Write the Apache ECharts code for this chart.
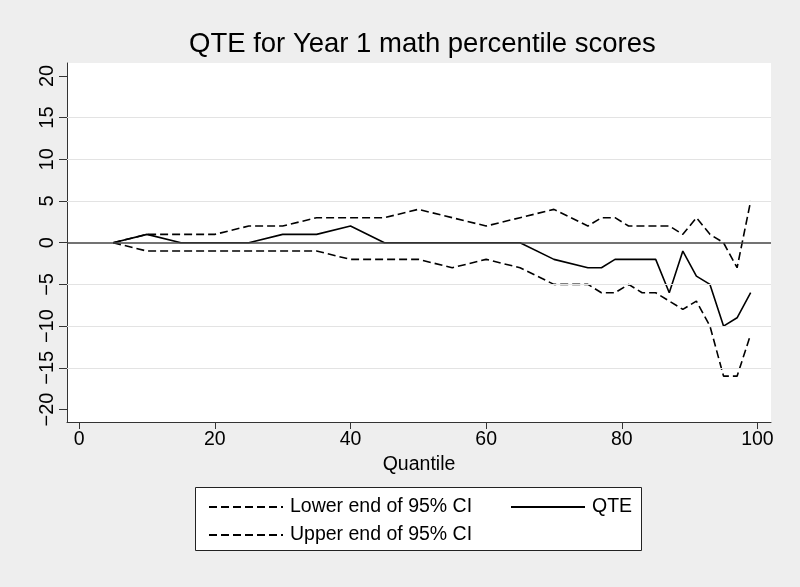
<!DOCTYPE html>
<html>
<head>
<meta charset="utf-8">
<script src="https://cdn.jsdelivr.net/npm/echarts@6/dist/echarts.min.js"></script>
<style>
html,body{margin:0;padding:0;background:#eeeeee;}
#chart{width:800px;height:587px;}
</style>
</head>
<body>
<div id="chart"></div>
<script>
// ---- data ----
var quantiles = [5,10,15,20,25,30,35,40,45,50,55,60,65,70,75,77,79,81,83,85,87,89,91,93,95,97,99];
var qte       = [0,1,0,0,0,1,1,2,0,0,0,0,0,-2,-3,-3,-2,-2,-2,-2,-6,-1,-4,-5,-10,-9,-6];
var lowerCI   = [0,-1,-1,-1,-1,-1,-1,-2,-2,-2,-3,-2,-3,-5,-5,-6,-6,-5,-6,-6,-7,-8,-7,-10,-16,-16,-11];
var upperCI   = [0,1,1,1,2,2,3,3,3,4,3,2,3,4,2,3,3,2,2,2,2,1,3,1,0,-3,5];
var xTicks = [0,20,40,60,80,100];
var yTicks = [-20,-15,-10,-5,0,5,10,15,20];
var gridValues = [-15,-10,-5,5,10,15];
var titleText = 'QTE for Year 1 math percentile scores';
var xName = 'Quantile';
var names = ['Lower end of 95% CI','QTE','Upper end of 95% CI'];

function pairs(xs, ys){ return xs.map(function(x,i){ return [x, ys[i]]; }); }

var FONT = "'Liberation Sans', Arial, sans-serif";
var chart = echarts.init(document.getElementById('chart'));
var dash = [8,4];
var legendText = {fontFamily: FONT, fontSize: 19.5, color: '#000', padding: [0,0,0,2], lineHeight: 20};
var option = {
  backgroundColor: '#eeeeee',
  animation: false,
  title: {
    text: titleText, left: 184, top: 25,
    textStyle: {fontFamily: FONT, fontSize: 27.5, fontWeight: 'normal', color: '#000'}
  },
  grid: {left: 67, right: 29, top: 63, bottom: 165, show: true, backgroundColor: '#fff', borderWidth: 0},
  xAxis: {
    type: 'value', min: -1.8, max: 102,
    name: xName, nameLocation: 'middle', nameGap: 31,
    nameTextStyle: {fontFamily: FONT, fontSize: 19.5, color: '#000'},
    axisLine: {show: true, onZero: false, lineStyle: {color: '#333', width: 1}},
    axisTick: {show: true, length: 7, customValues: xTicks, lineStyle: {color: '#333'}},
    axisLabel: {customValues: xTicks, margin: 8, fontFamily: FONT, fontSize: 19.5, color: '#000'},
    splitLine: {show: false}
  },
  yAxis: {
    type: 'value', min: -21.5, max: 21.55,
    axisLine: {show: true, onZero: false, lineStyle: {color: '#333', width: 1}},
    axisTick: {show: true, length: 8, customValues: yTicks, lineStyle: {color: '#333'}},
    axisLabel: {customValues: yTicks, rotate: 90, margin: 10, fontFamily: FONT, fontSize: 20, color: '#000',
      formatter: function(v){ return String(v).replace('-', '\u2212'); }},
    splitLine: {show: false}
  },
  legend: [
    {
      data: [names[0], names[2]], orient: 'vertical', left: 203, top: 492, itemGap: 8,
      itemWidth: 74, itemHeight: 14, itemStyle: {opacity: 0},
      textStyle: legendText
    },
    {
      data: [names[1]], orient: 'horizontal', left: 505, top: 492,
      itemWidth: 74, itemHeight: 14, itemStyle: {opacity: 0},
      textStyle: legendText
    }
  ],
  graphic: [{
    type: 'rect', left: 195, top: 487, z: -1,
    shape: {width: 446, height: 63},
    style: {fill: '#fff', stroke: '#222', lineWidth: 1}
  }],
  series: [
    {
      name: 'grid', type: 'line', data: [], silent: true,
      markLine: {silent: true, symbol: 'none', label: {show: false},
        lineStyle: {color: '#e3e3e3', width: 1, type: 'solid'},
        data: gridValues.map(function(v){ return {yAxis: v}; })}
    },
    {
      name: names[0], type: 'line', data: pairs(quantiles, lowerCI), symbol: 'none',
      lineStyle: {color: '#000', width: 1.6, type: dash}, itemStyle: {color: '#000'}, z: 3
    },
    {
      name: names[1], type: 'line', data: pairs(quantiles, qte), symbol: 'none',
      lineStyle: {color: '#000', width: 1.6, type: 'solid'}, itemStyle: {color: '#000'}, z: 3,
      markLine: {silent: true, symbol: 'none', label: {show: false},
        lineStyle: {color: '#444', width: 1.6, type: 'solid'},
        data: [{yAxis: 0}]}
    },
    {
      name: names[2], type: 'line', data: pairs(quantiles, upperCI), symbol: 'none',
      lineStyle: {color: '#000', width: 1.6, type: dash}, itemStyle: {color: '#000'}, z: 3
    }
  ]
};
chart.setOption(option);
</script>
</body>
</html>
